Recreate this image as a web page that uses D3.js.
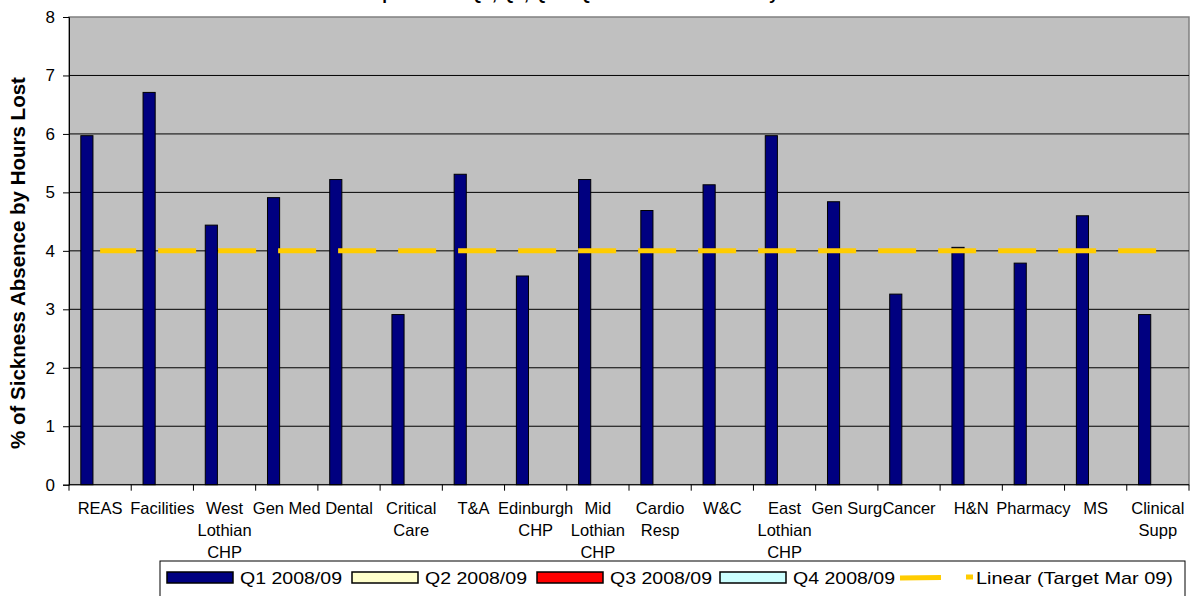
<!DOCTYPE html>
<html>
<head>
<meta charset="utf-8">
<script src="https://cdn.jsdelivr.net/npm/d3@7"></script>
<style>
  html, body { margin: 0; padding: 0; background: #fff; }
  svg { display: block; font-family: "Liberation Sans", Arial, sans-serif; }
</style>
</head>
<body>
<svg id="chart" width="1195" height="596"></svg>
<script>
// ---- data ----
const categories = ["REAS", "Facilities", "West Lothian CHP", "Gen Med", "Dental", "Critical Care",
  "T&A", "Edinburgh CHP", "Mid Lothian CHP", "Cardio Resp", "W&C", "East Lothian CHP",
  "Gen Surg", "Cancer", "H&N", "Pharmacy", "MS", "Clinical Supp"];
const tickLabels = [["REAS"], ["Facilities"], ["West", "Lothian", "CHP"], ["Gen Med"], ["Dental"],
  ["Critical", "Care"], ["T&A"], ["Edinburgh", "CHP"], ["Mid", "Lothian", "CHP"], ["Cardio", "Resp"],
  ["W&C"], ["East", "Lothian", "CHP"], ["Gen Surg"], ["Cancer"], ["H&N"], ["Pharmacy"], ["MS"],
  ["Clinical", "Supp"]];
const q1 = [5.97, 6.71, 4.44, 4.91, 5.22, 2.91, 5.31, 3.57, 5.22, 4.69, 5.13, 5.97, 4.84, 3.26, 4.06, 3.79, 4.60, 2.91];
const q2 = [];
const q3 = [];
const q4 = [];
const target = [4, 4, 4, 4, 4, 4, 4, 4, 4, 4, 4, 4, 4, 4, 4, 4, 4, 4];
const yTicks = [0, 1, 2, 3, 4, 5, 6, 7, 8];
const seriesNames = ["Q1 2008/09", "Q2 2008/09", "Q3 2008/09", "Q4 2008/09"];
const seriesColors = ["#000080", "#FFFFCC", "#FF0000", "#CCFFFF"];
const trendName = "Linear (Target Mar 09)";
const titleText = "Comparison of Q1, Q2, Q3 & Q4 Sickness Absence by Division";
const yTitle = "% of Sickness Absence by Hours Lost";

// ---- layout ----
const svg = d3.select("#chart");
const pLeft = 69, pRight = 1189, pTop = 17, pBottom = 484.7;
const x = d3.scaleBand().domain(categories).range([pLeft, pRight]).padding(0);
const y = d3.scaleLinear().domain([0, 8]).range([pBottom, pTop]);
const bw = x.bandwidth();

// title (clipped at the top edge, as in the reference)
svg.append("text").attr("x", 597).attr("y", -0.5).attr("text-anchor", "middle")
  .attr("font-size", 17).attr("font-weight", "bold").text(titleText);

// plot background
svg.append("rect").attr("x", pLeft).attr("y", pTop).attr("width", pRight - pLeft).attr("height", pBottom - pTop)
  .attr("fill", "#C0C0C0").attr("stroke", "#808080").attr("stroke-width", 1.5);

// gridlines
svg.append("g").selectAll("line").data(yTicks.filter(d => d > 0 && d < 8)).join("line")
  .attr("x1", pLeft).attr("x2", pRight).attr("y1", d => y(d)).attr("y2", d => y(d))
  .attr("stroke", "#000").attr("stroke-width", 1);

// Q1 bars
svg.append("g").selectAll("rect").data(q1).join("rect")
  .attr("x", (d, i) => x(categories[i]) + bw * 0.19)
  .attr("width", bw * 0.195)
  .attr("y", d => y(d))
  .attr("height", d => y(0) - y(d))
  .attr("fill", seriesColors[0]).attr("stroke", "#000").attr("stroke-width", 1);

// trend line (target)
const line = d3.line().x((d, i) => x(categories[i]) + bw / 2).y(d => y(d));
svg.append("path").datum(target).attr("d", line).attr("fill", "none")
  .attr("stroke", "#FFCC00").attr("stroke-width", 5).attr("stroke-dasharray", "38,22")
  .attr("stroke-dashoffset", 2);

// y axis
const yAxis = svg.append("g").attr("transform", `translate(${pLeft},0)`)
  .call(d3.axisLeft(y).tickValues(yTicks).tickSize(6).tickPadding(8).tickFormat(d3.format("d")));
yAxis.select(".domain").attr("stroke", "#000");
yAxis.selectAll("line").attr("stroke", "#000");
yAxis.selectAll("text").attr("font-size", 17).attr("fill", "#000")
  .attr("font-family", "Liberation Sans, Arial, sans-serif");

// x axis line and boundary ticks
svg.append("line").attr("x1", pLeft).attr("x2", pRight).attr("y1", pBottom).attr("y2", pBottom)
  .attr("stroke", "#000");
svg.append("g").selectAll("line").data(categories.concat([null])).join("line")
  .attr("x1", (d, i) => pLeft + i * bw).attr("x2", (d, i) => pLeft + i * bw)
  .attr("y1", pBottom).attr("y2", pBottom + 6).attr("stroke", "#000");

// x tick labels
const xl = svg.append("g");
tickLabels.forEach((lines, i) => {
  const t = xl.append("text").attr("text-anchor", "middle").attr("font-size", 16.5)
    .attr("x", x(categories[i]) + bw / 2).attr("y", 514);
  lines.forEach((s, j) => t.append("tspan").attr("x", x(categories[i]) + bw / 2)
    .attr("dy", j === 0 ? 0 : 22).text(s));
});

// y axis title
svg.append("text").attr("transform", "translate(25,263) rotate(-90)")
  .attr("text-anchor", "middle").attr("font-size", 20.5).attr("font-weight", "bold").text(yTitle);

// legend
const lg = svg.append("g");
lg.append("rect").attr("x", 160).attr("y", 561).attr("width", 1025).attr("height", 45)
  .attr("fill", "#fff").attr("stroke", "#000").attr("stroke-width", 1);
const swX = [167, 352, 537, 720];
seriesNames.forEach((n, i) => {
  lg.append("rect").attr("x", swX[i]).attr("y", 572).attr("width", 66).attr("height", 11)
    .attr("fill", seriesColors[i]).attr("stroke", "#000").attr("stroke-width", 1.5);
  lg.append("text").attr("x", swX[i] + 73).attr("y", 584).attr("font-size", 17)
    .attr("textLength", 102).attr("lengthAdjust", "spacingAndGlyphs").text(n);
});
lg.append("line").attr("x1", 900).attr("x2", 973).attr("y1", 578).attr("y2", 577)
  .attr("stroke", "#FFCC00").attr("stroke-width", 5).attr("stroke-dasharray", "41,25");
lg.append("text").attr("x", 976).attr("y", 584).attr("font-size", 17)
  .attr("textLength", 197).attr("lengthAdjust", "spacingAndGlyphs").text(trendName);
</script>
</body>
</html>
